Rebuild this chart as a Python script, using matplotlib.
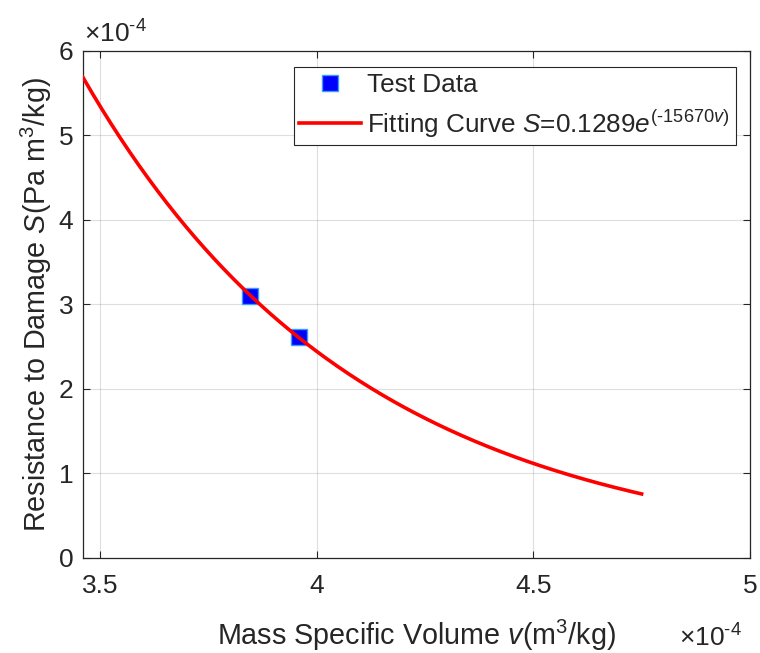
import numpy as np
import matplotlib
matplotlib.use("Agg")
import matplotlib.pyplot as plt
from matplotlib.ticker import FuncFormatter

plt.rcParams['font.family'] = ['Liberation Sans', 'DejaVu Sans']
plt.rcParams['mathtext.fontset'] = 'custom'
plt.rcParams['mathtext.rm'] = 'Liberation Sans'
plt.rcParams['mathtext.it'] = 'Liberation Sans:italic'
plt.rcParams['mathtext.default'] = 'regular'

# Data
test_v = [3.846e-4, 3.96e-4]
test_S = [3.10e-4, 2.61e-4]
fit_a = 0.1289
fit_b = -15670.0
fit_v_range = [3.461e-4, 4.75e-4]
x_ticks = [3.5e-4, 4.0e-4, 4.5e-4, 5.0e-4]
y_ticks = [0, 1e-4, 2e-4, 3e-4, 4e-4, 5e-4, 6e-4]

fig = plt.figure(figsize=(7.6, 6.53), dpi=100)
ax = fig.add_axes([0.1092, 0.146, 0.8776, 0.7759])

tc = '#262626'
fit_v = np.linspace(fit_v_range[0], fit_v_range[1], 300)
fit_S = fit_a * np.exp(fit_b * fit_v)

ax.plot(test_v, test_S, 's', color='#0000ff', markeredgecolor='#3d9df5',
        markeredgewidth=1.0, markersize=11, label='Test Data', zorder=3)
ax.plot(fit_v, fit_S, '-', color='#ff0000', linewidth=2.6,
        label=r'Fitting Curve $\mathit{S}$=0.1289$\mathit{e}^{(\text{-}15670\mathit{v})}$', zorder=4)

ax.set_xlim(3.461e-4, 5.0e-4)
ax.set_ylim(0, 6e-4)
ax.set_xticks(x_ticks)
ax.set_yticks(y_ticks)
ax.xaxis.set_major_formatter(FuncFormatter(lambda v, p: f"{v*1e4:g}"))
ax.yaxis.set_major_formatter(FuncFormatter(lambda v, p: f"{v*1e4:g}"))

ax.grid(True, color='#262626', alpha=0.15, linewidth=0.8)
ax.set_axisbelow(True)
ax.tick_params(direction='in', length=5, width=0.8, colors=tc, labelsize=19,
               top=True, right=True)
ax.tick_params(axis='x', pad=12)
ax.tick_params(axis='y', pad=7)
for s in ax.spines.values():
    s.set_color(tc)
    s.set_linewidth(0.9)

ax.set_xlabel(r'Mass Specific Volume $\mathit{v}$(m$^3$/kg)', fontsize=20.7, color=tc, labelpad=14)
ax.set_ylabel(r'Resistance to Damage $\mathit{S}$(Pa m$^3$/kg)', fontsize=20.7, color=tc, labelpad=3)

fig.text(0.110, 0.934, r'$\times$10$^{\text{-}4}$', fontsize=19, color=tc, ha='left', va='baseline')
fig.text(0.893, 0.010, r'$\times$10$^{\text{-}4}$', fontsize=19, color=tc, ha='left', va='baseline')

leg = ax.legend(loc='upper right', bbox_to_anchor=(0.979, 0.968), fontsize=18.8,
                frameon=True, fancybox=False, edgecolor=tc, framealpha=1,
                handlelength=2.35, handletextpad=0.25, borderpad=0.22, labelspacing=0.4,
                borderaxespad=0)
leg.get_frame().set_linewidth(0.8)
for t in leg.get_texts():
    t.set_color(tc)

fig.savefig('out.png', dpi=100)
